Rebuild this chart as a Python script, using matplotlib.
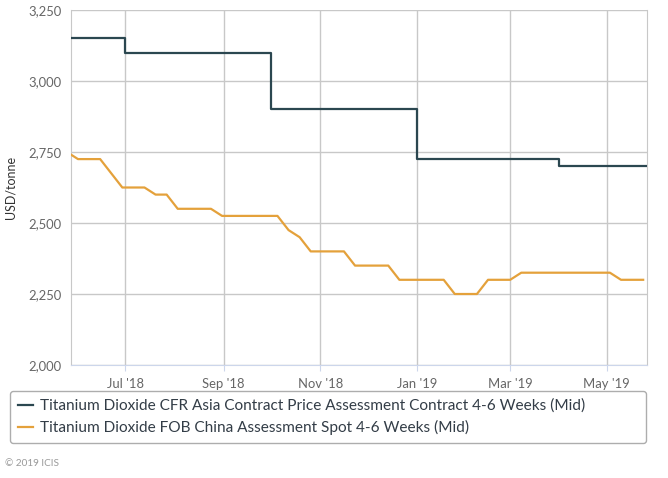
import matplotlib.pyplot as plt
from datetime import datetime

plt.rcParams['font.family'] = ['Lato', 'DejaVu Sans']

# weekly spot assessment (Fridays)
spot_dates = ["2018-05-25", "2018-06-01", "2018-06-08", "2018-06-15", "2018-06-22",
              "2018-06-29", "2018-07-06", "2018-07-13", "2018-07-20", "2018-07-27",
              "2018-08-03", "2018-08-10", "2018-08-17", "2018-08-24", "2018-08-31",
              "2018-09-07", "2018-09-14", "2018-09-21", "2018-09-28", "2018-10-05",
              "2018-10-12", "2018-10-19", "2018-10-26", "2018-11-02", "2018-11-09",
              "2018-11-16", "2018-11-23", "2018-11-30", "2018-12-07", "2018-12-14",
              "2018-12-21", "2018-12-28", "2019-01-04", "2019-01-11", "2019-01-18",
              "2019-01-25", "2019-02-01", "2019-02-08", "2019-02-15", "2019-02-22",
              "2019-03-01", "2019-03-08", "2019-03-15", "2019-03-22", "2019-03-29",
              "2019-04-05", "2019-04-12", "2019-04-19", "2019-04-26", "2019-05-03",
              "2019-05-10", "2019-05-17", "2019-05-24"]
spot_values = [2750, 2725, 2725, 2725, 2675,
               2625, 2625, 2625, 2600, 2600,
               2550, 2550, 2550, 2550, 2525,
               2525, 2525, 2525, 2525, 2525,
               2475, 2450, 2400, 2400, 2400,
               2400, 2350, 2350, 2350, 2350,
               2300, 2300, 2300, 2300, 2300,
               2250, 2250, 2250, 2300, 2300,
               2300, 2325, 2325, 2325, 2325,
               2325, 2325, 2325, 2325, 2325,
               2300, 2300, 2300]

# monthly contract price (step)
contract_dates = ["2018-05-25", "2018-07-01", "2018-10-01", "2019-01-01", "2019-04-01", "2019-05-27"]
contract_values = [3150, 3100, 2900, 2725, 2700, 2700]

tick_dates = ["2018-07-01", "2018-09-01", "2018-11-01", "2019-01-01", "2019-03-01", "2019-05-01"]
tick_labels = ["Jul '18", "Sep '18", "Nov '18", "Jan '19", "Mar '19", "May '19"]
y_ticks = [2000, 2250, 2500, 2750, 3000, 3250]

names = ["Titanium Dioxide CFR Asia Contract Price Assessment Contract 4-6 Weeks (Mid)",
         "Titanium Dioxide FOB China Assessment Spot 4-6 Weeks (Mid)"]
dark = "#2b4750"
orange = "#e4a13b"

to_dt = lambda lst: [datetime.strptime(d, "%Y-%m-%d") for d in lst]

fig = plt.figure(figsize=(6.68, 4.78), dpi=100)
ax = fig.add_axes([71/668, 1-365/478, 576/668, 355/478])

ax.plot(to_dt(contract_dates), contract_values, drawstyle="steps-post",
        color=dark, lw=1.6, label=names[0], zorder=3)
ax.plot(to_dt(spot_dates), spot_values, color=orange, lw=1.6, label=names[1], zorder=3)

ax.set_xlim(datetime(2018, 5, 27, 14), datetime(2019, 5, 26, 10))
ax.set_ylim(2000, 3250)
ax.set_xticks(to_dt(tick_dates))
ax.set_xticklabels(tick_labels)
ax.set_yticks(y_ticks)
ax.set_yticklabels([f"{v:,}" for v in y_ticks])
ax.grid(True, color="#c8c8c8", lw=1)
ax.tick_params(axis="both", colors="#666666", labelsize=9.4, length=0)
ax.tick_params(axis="x", pad=5, length=4, color="#ccd6eb")
ax.tick_params(axis="y", pad=7)
for s in ["left", "right", "top"]:
    ax.spines[s].set_color("#c8c8c8")
ax.spines["top"].set_visible(False)
ax.spines["bottom"].set_color("#ccd6eb")
ax.set_ylabel("USD/tonne", color="#333333", fontsize=9, labelpad=8)

fig.legend(loc="upper left", bbox_to_anchor=(10/668, 1-443/478, 636/668, 52/478),
           mode="expand", borderaxespad=0, fontsize=11.1, frameon=True, fancybox=True,
           edgecolor="#999999", handlelength=0.98, handletextpad=0.46,
           labelspacing=0.45, borderpad=0.5, labelcolor="#333d47")

fig.text(5/668, 1-464/478, "\u00a9 2019 ICIS", fontsize=7.2, color="#999999", va="center")

fig.savefig("out.png", dpi=100)
